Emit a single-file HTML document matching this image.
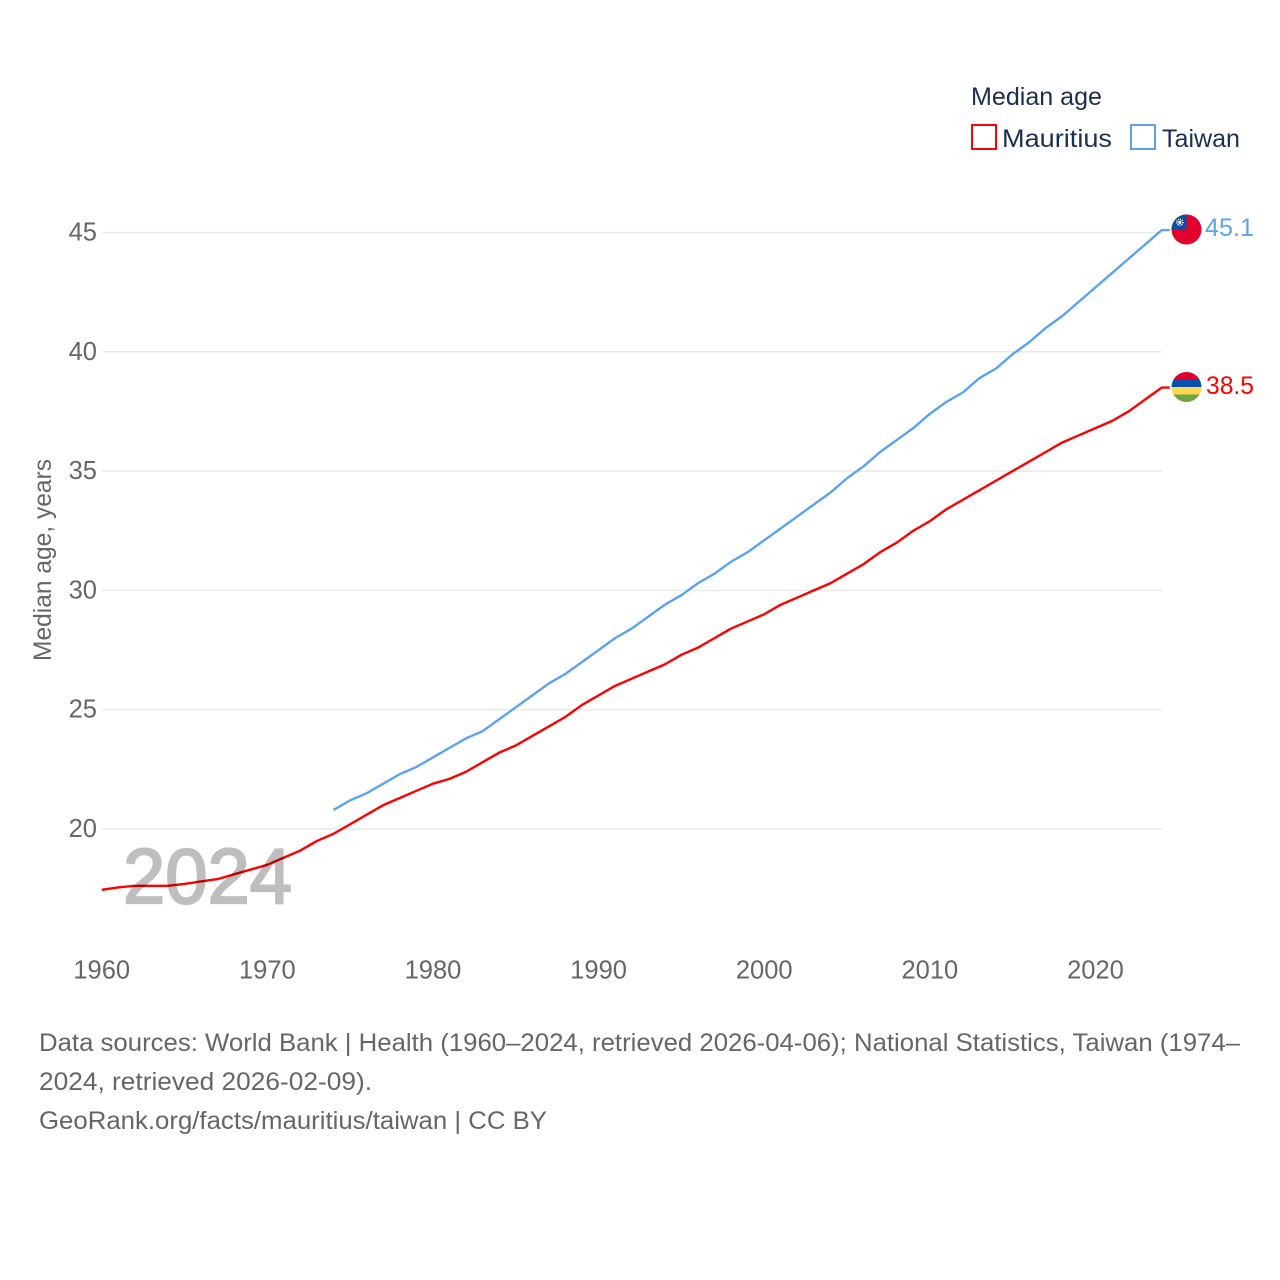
<!DOCTYPE html>
<html lang="en">
<head>
<meta charset="utf-8">
<title>Median age: Mauritius and Taiwan</title>
<style>
html,body{margin:0;padding:0;background:#fff;width:1280px;height:1280px;overflow:hidden}
svg{display:block}
text{font-family:"Liberation Sans",sans-serif}
</style>
</head>
<body>
<svg id="chart" xmlns="http://www.w3.org/2000/svg" width="1280" height="1280" viewBox="0 0 1280 1280">
  <rect x="0" y="0" width="1280" height="1280" fill="#fff"/>
  <defs>
    <clipPath id="clip-tw"><circle cx="1186.5" cy="229.5" r="15"/></clipPath>
    <clipPath id="clip-mu"><circle cx="1186.5" cy="387" r="15"/></clipPath>
  </defs>
  <g id="grid"></g>
  <g id="y-ticks"></g>
  <g id="x-ticks"></g>
  <text transform="translate(51,661) rotate(-90)" font-size="25" fill="#666" textLength="202" lengthAdjust="spacingAndGlyphs">Median age, years</text>
  <g id="series"></g>
  <text x="123" y="903" font-size="78" fill="#000" stroke="#000" stroke-width="2.2" opacity="0.25" textLength="169" lengthAdjust="spacingAndGlyphs">2024</text>

  <g>
    <text x="971" y="105" font-size="25" fill="#1a2f4f" textLength="131" lengthAdjust="spacingAndGlyphs">Median age</text>
    <rect x="972" y="125" width="24" height="24" fill="none" stroke="#ff0000" stroke-width="2"/>
    <text x="1002" y="147" font-size="25" fill="#1a2f4f" textLength="110" lengthAdjust="spacingAndGlyphs">Mauritius</text>
    <rect x="1131" y="125" width="24" height="24" fill="none" stroke="#5ba3ee" stroke-width="2"/>
    <text x="1162" y="147" font-size="25" fill="#1a2f4f" textLength="78" lengthAdjust="spacingAndGlyphs">Taiwan</text>
  </g>

  <g clip-path="url(#clip-tw)">
    <rect x="1170" y="213" width="33" height="33" fill="#e2002d"/>
    <rect x="1170" y="213" width="16.5" height="16.5" fill="#0b4ea2"/>
    <circle cx="1179.8" cy="222.3" r="3" fill="none" stroke="#fff" stroke-width="1.6" stroke-dasharray="1 1"/>
    <circle cx="1179.8" cy="222.3" r="1.6" fill="#fff"/>
  </g>
  <g clip-path="url(#clip-mu)">
    <rect x="1170" y="372" width="33" height="7.5" fill="#e1002a"/>
    <rect x="1170" y="379.5" width="33" height="7.5" fill="#0a50ae"/>
    <rect x="1170" y="387" width="33" height="7.5" fill="#ffd84d"/>
    <rect x="1170" y="394.5" width="33" height="7.5" fill="#6ea544"/>
  </g>
  <text x="1205" y="236" font-size="25" fill="#5ba3ee" textLength="49" lengthAdjust="spacingAndGlyphs">45.1</text>
  <text x="1206" y="394" font-size="25" fill="#ff0000" textLength="48" lengthAdjust="spacingAndGlyphs">38.5</text>

  <g fill="#666" font-size="25">
    <text x="39" y="1051" textLength="1201" lengthAdjust="spacingAndGlyphs">Data sources: World Bank | Health (1960–2024, retrieved 2026-04-06); National Statistics, Taiwan (1974–</text>
    <text x="39" y="1090" textLength="333" lengthAdjust="spacingAndGlyphs">2024, retrieved 2026-02-09).</text>
    <text x="39" y="1129" textLength="508" lengthAdjust="spacingAndGlyphs">GeoRank.org/facts/mauritius/taiwan | CC BY</text>
  </g>
</svg>
<script>
const yTickValues = [20, 25, 30, 35, 40, 45];
const xTickValues = [1960, 1970, 1980, 1990, 2000, 2010, 2020];
const mauritiusStartYear = 1960;
const mauritiusValues = [17.45,17.55,17.62,17.62,17.62,17.7,17.8,17.9,18.1,18.3,18.5,18.8,19.1,19.5,19.8,20.2,20.6,21.0,21.3,21.6,21.9,22.1,22.4,22.8,23.2,23.5,23.9,24.3,24.7,25.2,25.6,26.0,26.3,26.6,26.9,27.3,27.6,28.0,28.4,28.7,29.0,29.4,29.7,30.0,30.3,30.7,31.1,31.6,32.0,32.5,32.9,33.4,33.8,34.2,34.6,35.0,35.4,35.8,36.2,36.5,36.8,37.1,37.5,38.0,38.5];
const taiwanStartYear = 1974;
const taiwanValues = [20.8,21.2,21.5,21.9,22.3,22.6,23.0,23.4,23.8,24.1,24.6,25.1,25.6,26.1,26.5,27.0,27.5,28.0,28.4,28.9,29.4,29.8,30.3,30.7,31.2,31.6,32.1,32.6,33.1,33.6,34.1,34.7,35.2,35.8,36.3,36.8,37.4,37.9,38.3,38.9,39.3,39.9,40.4,41.0,41.5,42.1,42.7,43.3,43.9,44.5,45.1];

const NS = 'http://www.w3.org/2000/svg';
function xScale(year) { return 101.7 + (year - 1960) * (1161.7 - 101.7) / 64; }
function yScale(value) { return 829 - (value - 20) * (829 - 232.5) / 25; }

const gridGroup = document.getElementById('grid');
const yTickGroup = document.getElementById('y-ticks');
yTickValues.forEach(function (v) {
  const line = document.createElementNS(NS, 'line');
  
  
  line.setAttribute('x1', 102);
  line.setAttribute('x2', 1162);
  line.setAttribute('y1', yScale(v));
  line.setAttribute('y2', yScale(v));
  line.setAttribute('stroke', '#eaeaea');
  line.setAttribute('stroke-width', '1.5');
  gridGroup.appendChild(line);

  const label = document.createElementNS(NS, 'text');
  
  
  label.setAttribute('x', 97);
  label.setAttribute('y', yScale(v) + 8);
  label.setAttribute('text-anchor', 'end');
  label.setAttribute('font-size', '25.5');
  label.setAttribute('fill', '#666');
  label.textContent = v;
  yTickGroup.appendChild(label);
});

const xTickGroup = document.getElementById('x-ticks');
xTickValues.forEach(function (year) {
  const label = document.createElementNS(NS, 'text');
  
  
  label.setAttribute('x', xScale(year));
  label.setAttribute('y', 978.5);
  label.setAttribute('text-anchor', 'middle');
  label.setAttribute('font-size', '25.5');
  label.setAttribute('fill', '#666');
  label.textContent = year;
  xTickGroup.appendChild(label);
});

function buildPoints(startYear, values) {
  const pts = values.map(function (v, i) {
    return xScale(startYear + i).toFixed(2) + ',' + yScale(v).toFixed(2);
  });
  const last = values[values.length - 1];
  pts.push((xScale(startYear + values.length - 1) + 8).toFixed(2) + ',' + yScale(last).toFixed(2));
  return pts.join(' ');
}

const seriesGroup = document.getElementById('series');

const taiwanLine = document.createElementNS(NS, 'polyline');


taiwanLine.setAttribute('points', buildPoints(taiwanStartYear, taiwanValues));
taiwanLine.setAttribute('fill', 'none');
taiwanLine.setAttribute('stroke', '#5ba3ee');
taiwanLine.setAttribute('stroke-width', '2.4');
taiwanLine.setAttribute('stroke-linejoin', 'round');
seriesGroup.appendChild(taiwanLine);

const mauritiusLine = document.createElementNS(NS, 'polyline');


mauritiusLine.setAttribute('points', buildPoints(mauritiusStartYear, mauritiusValues));
mauritiusLine.setAttribute('fill', 'none');
mauritiusLine.setAttribute('stroke', '#ff0000');
mauritiusLine.setAttribute('stroke-width', '2.4');
mauritiusLine.setAttribute('stroke-linejoin', 'round');
seriesGroup.appendChild(mauritiusLine);
</script>
</body>
</html>
